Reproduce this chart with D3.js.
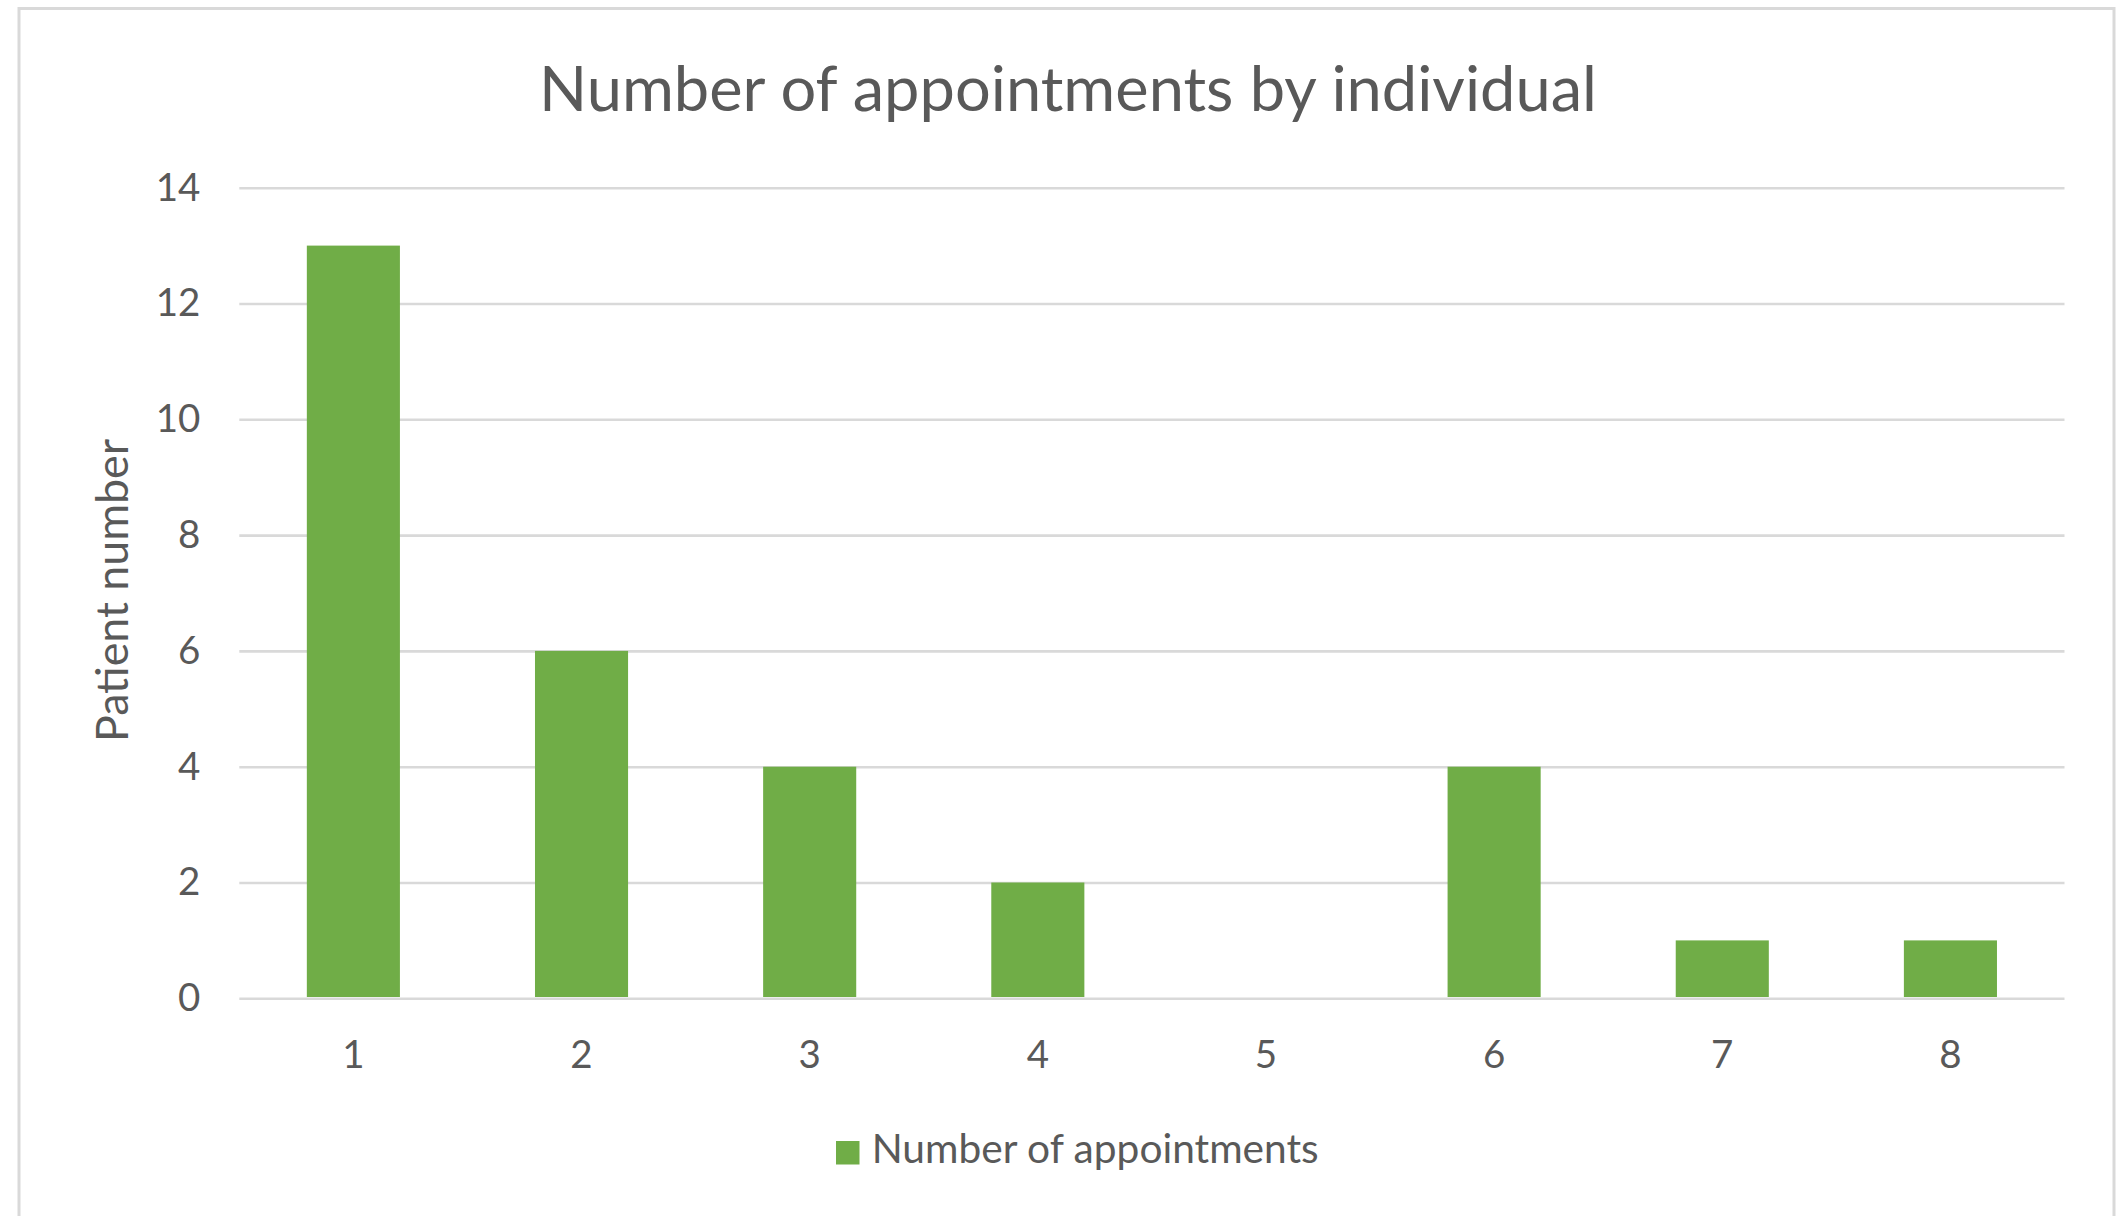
<!DOCTYPE html>
<html>
<head>
<meta charset="utf-8">
<script src="https://cdn.jsdelivr.net/npm/d3@7"></script>
<style>
  html, body { margin: 0; padding: 0; background: #fff; }
  svg { display: block; }
  text { font-family: Lato, "Open Sans", sans-serif; fill: #595959; }
</style>
</head>
<body>
<svg id="chart" width="2120" height="1216"></svg>
<script>
// Appointments per individual
const categories = ["1", "2", "3", "4", "5", "6", "7", "8"];
const appointments = [13, 6, 4, 2, 0, 4, 1, 1];
const yTicks = [0, 2, 4, 6, 8, 10, 12, 14];
const titleText = "Number of appointments by individual";
const yAxisTitle = "Patient number";
const seriesName = "Number of appointments";

const W = 2120, H = 1216;
const plot = { left: 239.3, right: 2064.5, top: 187.7, bottom: 998.3 };
const green = "#70ad47";
const gridColor = "#d9d9d9";

const svg = d3.select("#chart");

svg.append("rect").attr("width", W).attr("height", H).attr("fill", "#fff");

// chart frame (bottom edge falls outside the canvas)
svg.append("rect")
  .attr("x", 19).attr("y", 8.5)
  .attr("width", 2095).attr("height", 1240)
  .attr("fill", "none")
  .attr("stroke", gridColor)
  .attr("stroke-width", 3);

const x = d3.scaleBand()
  .domain(categories)
  .range([plot.left, plot.right])
  .paddingInner(0.592)
  .paddingOuter(0.296);

const y = d3.scaleLinear()
  .domain([0, 14])
  .range([plot.bottom, plot.top]);

// y axis with full-width gridlines
const yAxis = svg.append("g")
  .attr("transform", `translate(${plot.left},0)`)
  .call(d3.axisLeft(y)
    .tickValues(yTicks)
    .tickSize(-(plot.right - plot.left))
    .tickPadding(39)
    .tickFormat(d3.format("d")));
yAxis.select(".domain").remove();
yAxis.selectAll(".tick line")
  .attr("stroke", gridColor)
  .attr("stroke-width", 2.6);
yAxis.selectAll(".tick text")
  .attr("font-size", 38.5)
  .attr("fill", "#595959")
  .style("font-family", "Lato, sans-serif");

// bars
svg.append("g").selectAll("rect")
  .data(categories.map((c, i) => ({ c, v: appointments[i] })))
  .join("rect")
  .attr("x", d => x(d.c))
  .attr("width", x.bandwidth())
  .attr("y", d => y(d.v))
  .attr("height", d => y(0) - y(d.v) - 1.3)
  .attr("fill", green);

// x axis labels
const xAxis = svg.append("g")
  .attr("transform", `translate(0,${plot.bottom})`)
  .call(d3.axisBottom(x).tickSize(0));
xAxis.select(".domain").remove();
xAxis.selectAll(".tick text")
  .attr("y", 70)
  .attr("dy", null)
  .attr("font-size", 38.5)
  .attr("fill", "#595959")
  .style("font-family", "Lato, sans-serif");

// title
svg.append("text")
  .attr("x", 1068).attr("y", 111)
  .attr("text-anchor", "middle")
  .attr("font-size", 61)
  .attr("textLength", 1058)
  .attr("lengthAdjust", "spacingAndGlyphs")
  .text(titleText);

// y-axis title
svg.append("text")
  .attr("transform", "translate(128.3,590.5) rotate(-90)")
  .attr("text-anchor", "middle")
  .attr("font-size", 44)
  .attr("textLength", 303)
  .attr("lengthAdjust", "spacingAndGlyphs")
  .text(yAxisTitle);

// legend
const legend = svg.append("g");
legend.append("rect")
  .attr("x", 836).attr("y", 1141)
  .attr("width", 23.5).attr("height", 23.5)
  .attr("fill", green);
legend.append("text")
  .attr("x", 871.7).attr("y", 1163.3)
  .attr("font-size", 40)
  .attr("textLength", 447)
  .attr("lengthAdjust", "spacingAndGlyphs")
  .text(seriesName);
</script>
</body>
</html>
